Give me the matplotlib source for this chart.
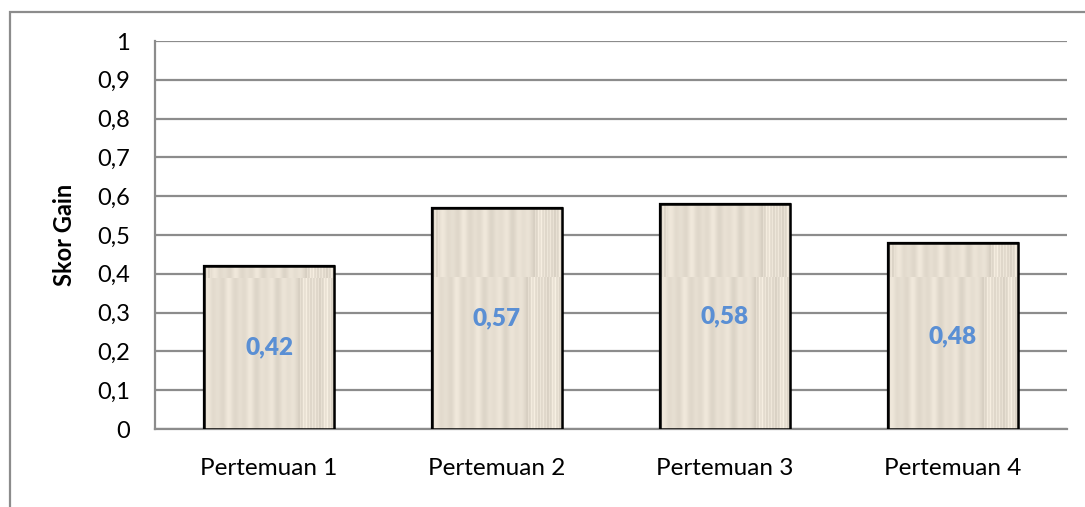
import numpy as np
import matplotlib.pyplot as plt
from matplotlib.patches import Rectangle

plt.rcParams['font.family'] = ['Lato', 'DejaVu Sans']

categories = ['Pertemuan 1', 'Pertemuan 2', 'Pertemuan 3', 'Pertemuan 4']
gain = [0.42, 0.57, 0.58, 0.48]
yticks = [0, 0.1, 0.2, 0.3, 0.4, 0.5, 0.6, 0.7, 0.8, 0.9, 1]
ylabel = 'Skor Gain'


def fmt(v):
    # decimal comma, no trailing zeros
    s = ('%.2f' % v).rstrip('0').rstrip('.')
    return s.replace('.', ',')


def stripe_texture(width=130, rows=2):
    # vertical beige stripes, like a wood/paper fill
    x = np.arange(width)
    base = np.array([0.902, 0.871, 0.820])
    shade = (0.04 * np.sin(x * 0.45) * np.cos(x * 0.13)
             + 0.035 * np.sin(x * 2.1 + 1.0) * (x > width * 0.72))
    tex = base[None, None, :] + shade[None, :, None]
    tex = np.repeat(tex, rows, axis=0)
    # second tile is slightly shifted
    tex[1] = np.roll(tex[1], 7, axis=0)
    return np.clip(tex, 0, 1)


fig = plt.figure(figsize=(10.85, 5.07), dpi=100)
ax = fig.add_axes([155 / 1085, 1 - 429 / 507, 912 / 1085, 388 / 507])

# outer chart frame
fig.patches.append(Rectangle((10 / 1085, -0.05), 1.2, 1 - 12 / 507 + 0.05,
                             transform=fig.transFigure, fill=False,
                             edgecolor='#8c8c8c', linewidth=1.6, zorder=0))

x = np.arange(len(categories))
width = 0.57
bars = ax.bar(x, gain, width=width, color='#e7dfd2', edgecolor='black',
              linewidth=1.6, zorder=3)

tex = stripe_texture()
for b in bars:
    bx, by = b.get_x(), b.get_y()
    bw, bh = b.get_width(), b.get_height()
    img = ax.imshow(tex, extent=(bx, bx + bw, 0, 0.78), aspect='auto',
                    origin='lower', zorder=3.5, interpolation='nearest')
    img.set_clip_path(b)
    edge = Rectangle((bx, by), bw, bh, fill=False, edgecolor='black',
                     linewidth=1.8, zorder=4)
    ax.add_patch(edge)

for xi, v in zip(x, gain):
    ax.text(xi, v / 2, fmt(v), ha='center', va='center', color='#5a8fd4',
            fontsize=17.5, fontweight='heavy', zorder=5)

ax.set_xlim(-0.5, len(categories) - 0.5)
ax.set_ylim(0, 1)
ax.set_yticks(yticks)
ax.set_yticklabels([fmt(t) for t in yticks], fontsize=17)
ax.set_xticks(x)
ax.set_xticklabels(categories, fontsize=17.5)
ax.tick_params(axis='both', length=0)
ax.tick_params(axis='y', pad=18)
ax.tick_params(axis='x', pad=21)
ax.yaxis.grid(True, color='#8c8c8c', linewidth=1.6, zorder=0)
ax.set_axisbelow(True)
for side in ['top', 'right']:
    ax.spines[side].set_visible(False)
for side in ['left', 'bottom']:
    ax.spines[side].set_color('#8c8c8c')
    ax.spines[side].set_linewidth(1.6)
ax.set_ylabel(ylabel, fontsize=17, fontweight='bold', labelpad=15)

fig.savefig('out.png', dpi=100)
